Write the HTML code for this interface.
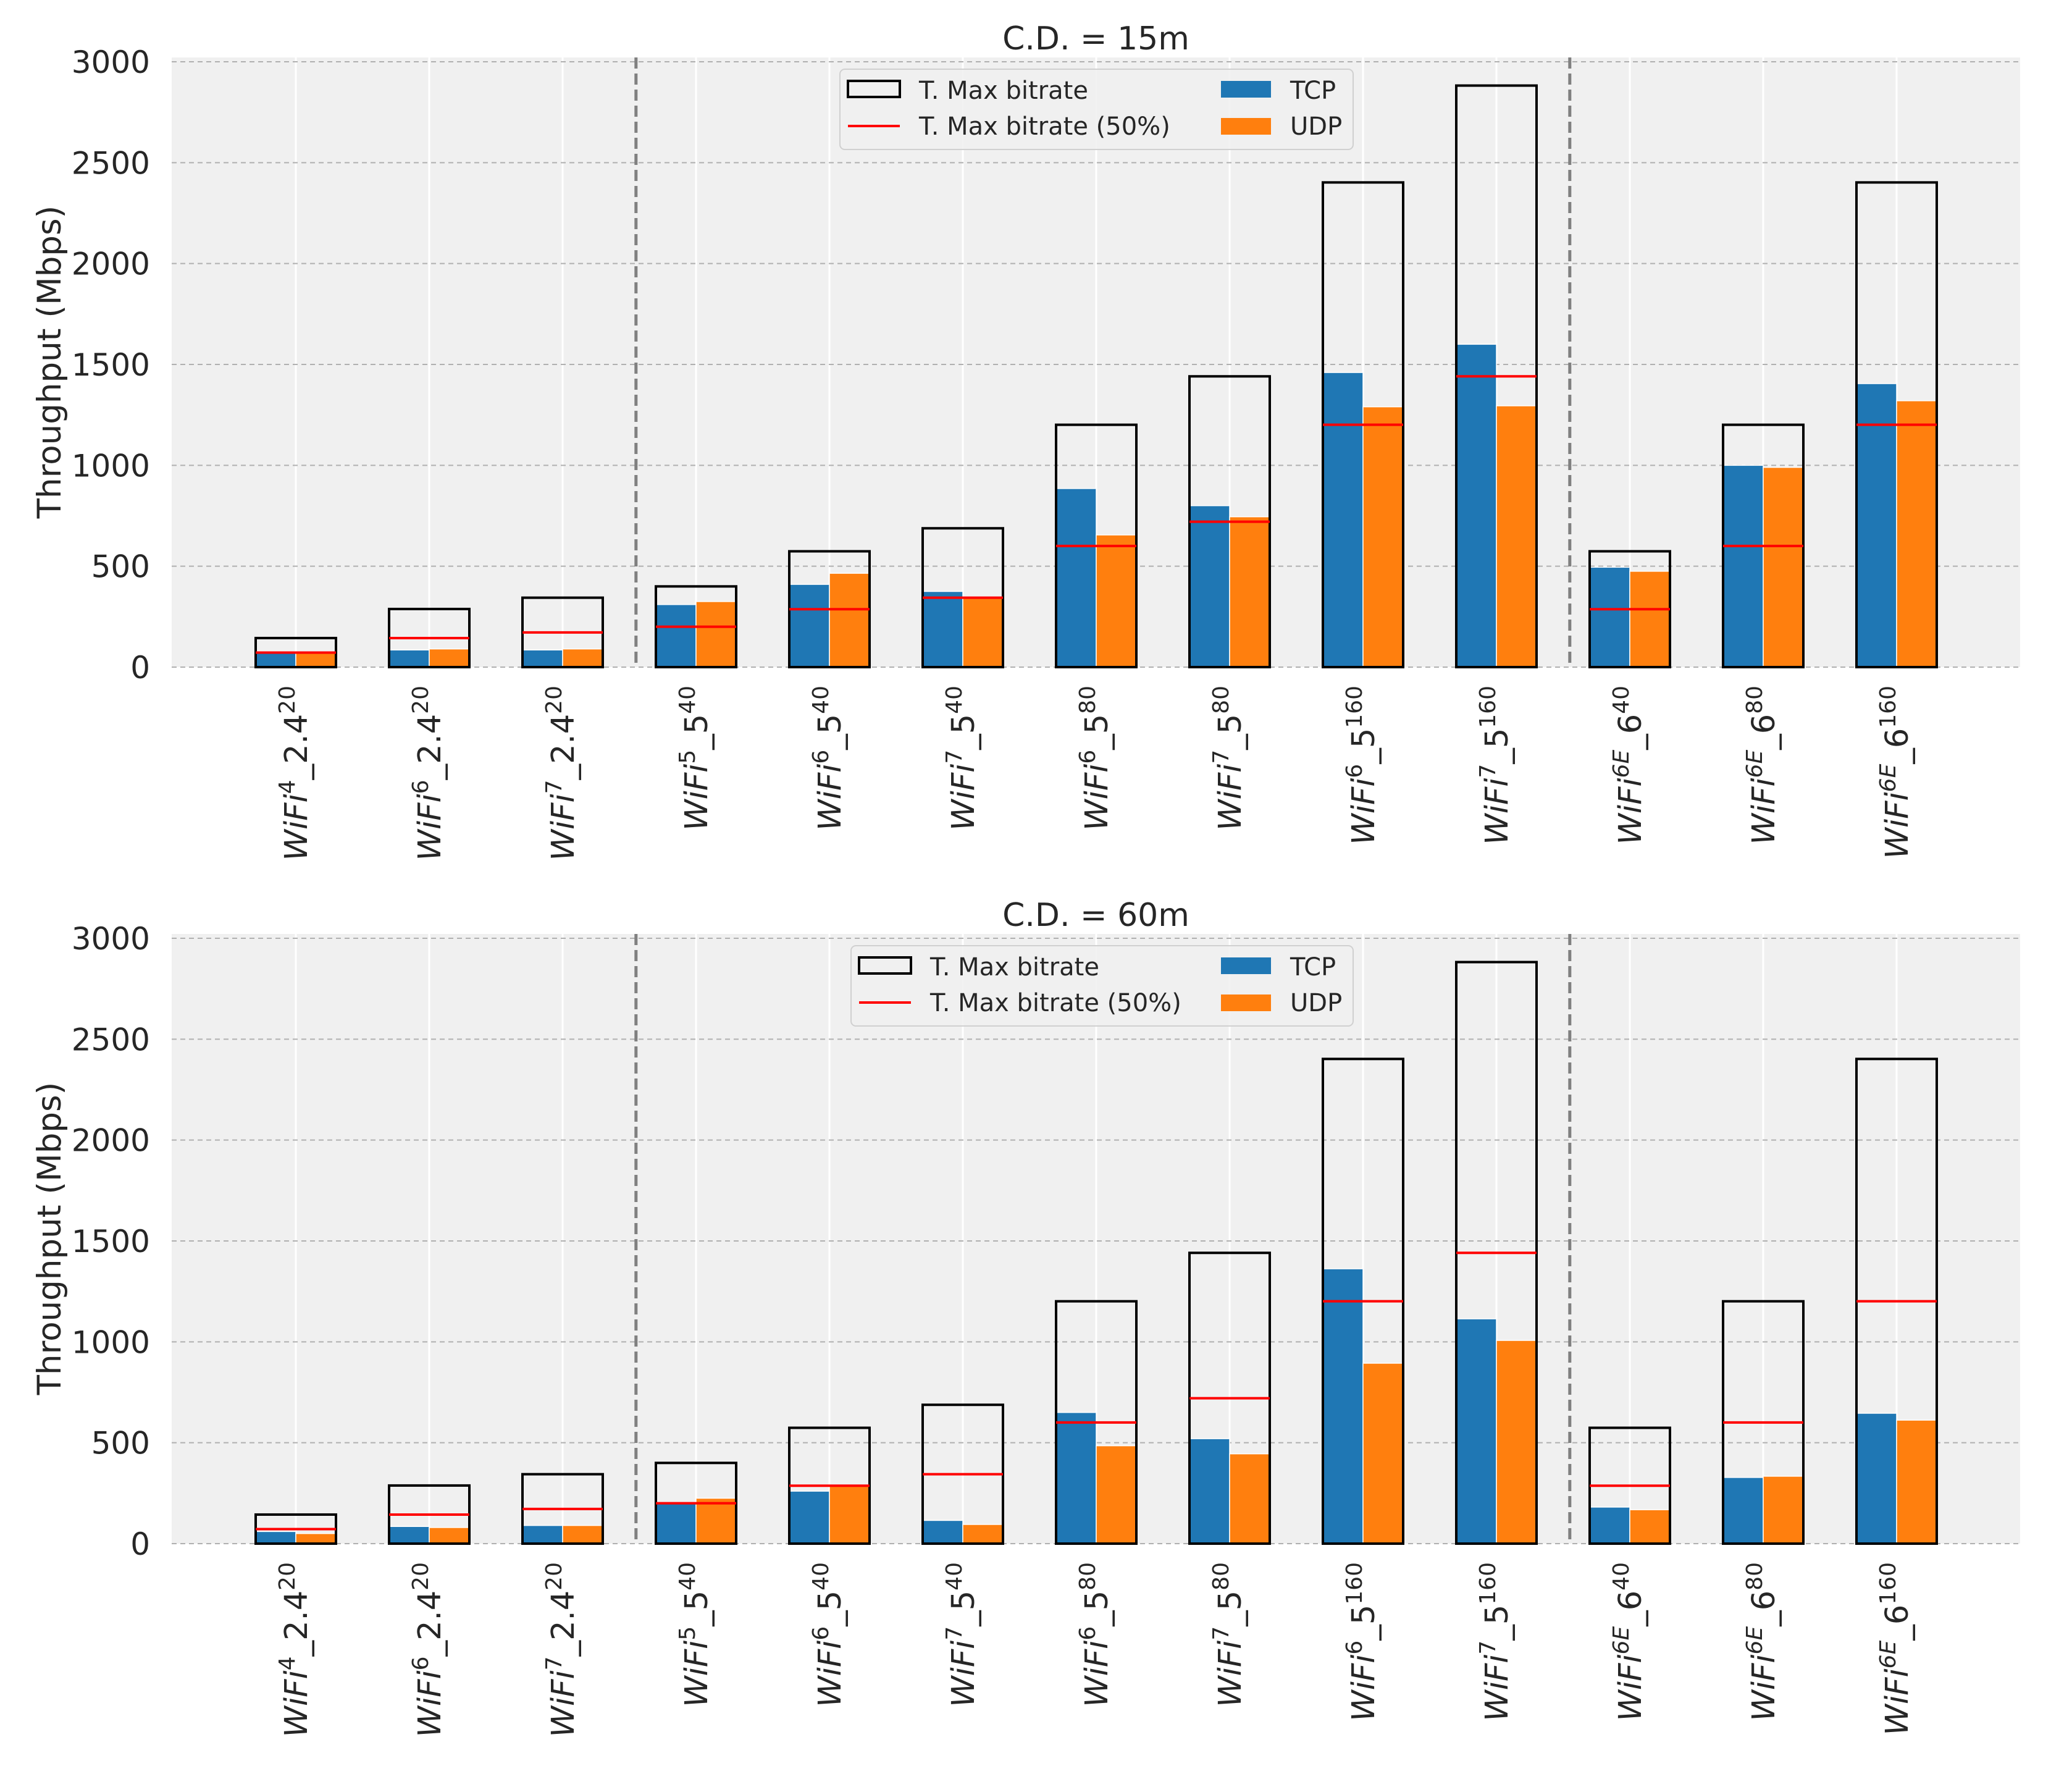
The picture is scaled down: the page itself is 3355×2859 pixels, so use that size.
<!DOCTYPE html>
<html><head><meta charset="utf-8"><style>
html,body{margin:0;padding:0;background:#fff}
svg{display:block;font-family:"DejaVu Sans","Liberation Sans",sans-serif}
</style></head><body>
<svg id="chart" width="3355" height="2859" viewBox="0 0 3355 2859" xmlns="http://www.w3.org/2000/svg"></svg>
<script>
const categories = [["4","2.4","20"],["6","2.4","20"],["7","2.4","20"],["5","5","40"],["6","5","40"],["7","5","40"],["6","5","80"],["7","5","80"],["6","5","160"],["7","5","160"],["6E","6","40"],["6E","6","80"],["6E","6","160"]];
const maxBitrate = [144,288,344,400,574,688,1201,1441,2402,2882,574,1201,2402];
const tcp15 = [70,85,85,310,410,375,885,800,1460,1600,495,1000,1405];
const udp15 = [70,90,90,325,465,345,655,745,1290,1295,475,990,1320];
const tcp60 = [60,85,90,200,260,115,650,520,1362,1114,181,328,646];
const udp60 = [50,80,90,225,290,95,485,445,894,1007,168,334,612];
const yTicks = [0,500,1000,1500,2000,2500,3000];
const dividers = [2.55,9.55];
const titles = ["C.D. = 15m","C.D. = 60m"];

const NS="http://www.w3.org/2000/svg";
const svg=document.getElementById('chart');
function mk(tag,attrs,parent){const e=document.createElementNS(NS,tag);for(const k in attrs)e.setAttribute(k,attrs[k]);(parent||svg).appendChild(e);return e;}

const L=278,R=3271,X0=479,DX=216,PPU=0.32667;
function xs(i){return X0+i*DX;}

function panel(off,tcp,udp,title,legendLeft,idx){
  const g=mk('g',{});
  
  
  const base=1080+off, top=93+off;
  function ys(v){return base-v*PPU;}
  const bg=mk('rect',{x:L,y:top,width:R-L,height:base-top,fill:'#f0f0f0'},g);
  
  
  categories.forEach((c,i)=>{
    const l=mk('line',{x1:xs(i),x2:xs(i),y1:top,y2:base,stroke:'#fff','stroke-width':3},g);
    
    
  });
  yTicks.forEach(t=>{
    const l=mk('line',{x1:L,x2:R,y1:ys(t),y2:ys(t),stroke:'#b0b0b0','stroke-width':2,'stroke-dasharray':'8,6'},g);
    
    
    const tx=mk('text',{x:243,y:ys(t)+18,'text-anchor':'end','font-size':50,fill:'#262626'},g);
    tx.textContent=t;
    
    
  });
  const hw=65;
  categories.forEach((c,i)=>{
    const cx=xs(i);
    const b1=mk('rect',{x:cx-hw,y:ys(tcp[i]),width:hw,height:tcp[i]*PPU,fill:'#1f77b4',stroke:'#fff','stroke-width':1.5},g);
    
    
    const b2=mk('rect',{x:cx,y:ys(udp[i]),width:hw,height:udp[i]*PPU,fill:'#ff7f0e',stroke:'#fff','stroke-width':1.5},g);
    
    
    const bx=mk('rect',{x:cx-hw,y:ys(maxBitrate[i]),width:2*hw,height:maxBitrate[i]*PPU,fill:'none',stroke:'#000','stroke-width':4},g);
    
    
    const rl=mk('line',{x1:cx-hw,x2:cx+hw,y1:ys(maxBitrate[i]/2),y2:ys(maxBitrate[i]/2),stroke:'#ff0000','stroke-width':4},g);
    
    
    const lx=cx+18, ly=1110+off;
    const tx=mk('text',{x:lx,y:ly,transform:`rotate(-90 ${lx} ${ly})`,'text-anchor':'end','font-size':51,fill:'#262626'},g);
    
    
    const a=mk('tspan',{'font-style':'italic'},tx);a.textContent='WiFi';
    const s1=mk('tspan',{'font-size':36,dy:-20,'font-style':c[0]==='6E'?'italic':'normal'},tx);s1.textContent=c[0];
    const m=mk('tspan',{dy:20},tx);m.textContent='_'+c[1];
    const s2=mk('tspan',{'font-size':36,dy:-20},tx);s2.textContent=c[2];
  });
  dividers.forEach(d=>{
    const l=mk('line',{x1:xs(d),x2:xs(d),y1:top,y2:base,stroke:'#808080','stroke-width':5,'stroke-dasharray':'18,8'},g);
    
    
  });
  const tt=mk('text',{x:(L+R)/2,y:80+off,'text-anchor':'middle','font-size':52,fill:'#262626'},g);
  tt.textContent=title;
  
  
  const yl=mk('text',{x:98,y:586+off,transform:`rotate(-90 98 ${586+off})`,'text-anchor':'middle','font-size':53,fill:'#262626'},g);
  yl.textContent='Throughput (Mbps)';
  
  
  const lg=mk('g',{},g);
  
  
  const lw=2191-legendLeft;
  mk('rect',{x:legendLeft,y:112+off,width:lw,height:130,rx:8,fill:'#f0f0f0','fill-opacity':0.85,stroke:'#d0d0d0','stroke-width':2},lg);
  const k1=mk('rect',{x:legendLeft+13,y:131+off,width:84,height:26,fill:'none',stroke:'#000','stroke-width':4},lg);
  
  
  const t1=mk('text',{x:legendLeft+128,y:160+off,'font-size':40,fill:'#262626'},lg);t1.textContent='T. Max bitrate';
  const k2=mk('line',{x1:legendLeft+13,x2:legendLeft+97,y1:204+off,y2:204+off,stroke:'#ff0000','stroke-width':4},lg);
  
  
  const t2=mk('text',{x:legendLeft+128,y:218+off,'font-size':40,fill:'#262626'},lg);t2.textContent='T. Max bitrate (50%)';
  const k3=mk('rect',{x:1977,y:131+off,width:81,height:27,fill:'#1f77b4'},lg);
  
  
  const t3=mk('text',{x:2089,y:160+off,'font-size':40,fill:'#262626'},lg);t3.textContent='TCP';
  const k4=mk('rect',{x:1977,y:191+off,width:81,height:27,fill:'#ff7f0e'},lg);
  
  
  const t4=mk('text',{x:2089,y:218+off,'font-size':40,fill:'#262626'},lg);t4.textContent='UDP';
}
panel(0,tcp15,udp15,titles[0],1360,0);
panel(1419,tcp60,udp60,titles[1],1378,1);
</script>
</body></html>
